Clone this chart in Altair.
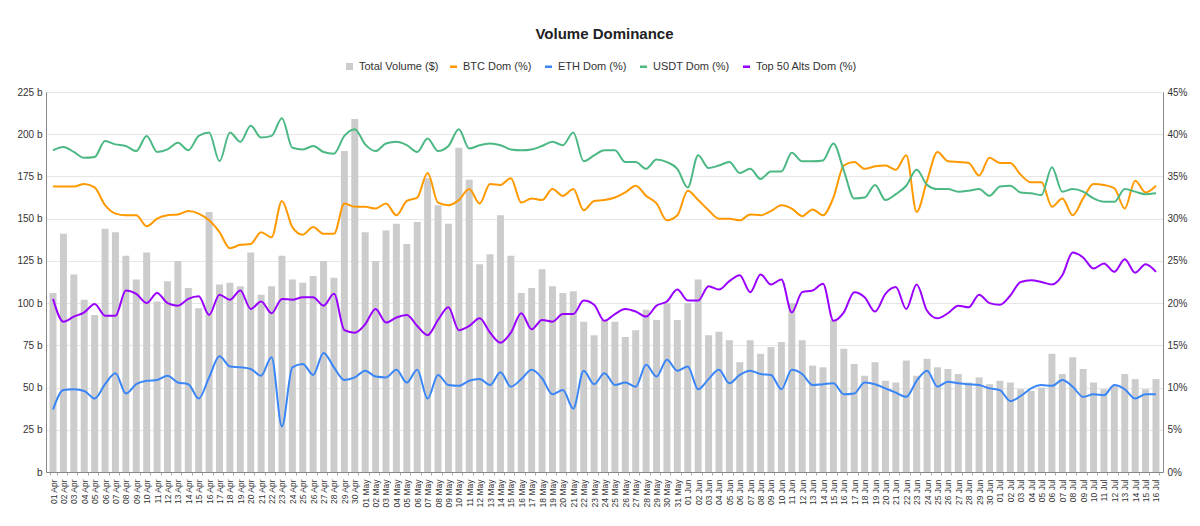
import altair as alt
import pandas as pd

months = [("Apr", 30), ("May", 31), ("Jun", 30), ("Jul", 16)]
dates = [f"{d:02d} {m}" for m, n in months for d in range(1, n + 1)]

volume = [106, 141, 117, 102, 93, 144, 142, 128, 114, 130, 101, 113, 125, 109, 97, 154, 111, 112, 110, 130,
          105, 110, 128, 114, 112, 116, 125, 115, 190, 209,
          142, 125, 143, 147, 135, 148, 174, 158, 147, 192, 173, 123, 129, 152, 128, 106, 109, 120, 110, 106,
          107, 89, 81, 90, 89, 80, 84, 96, 90, 100, 90,
          100, 114, 81, 83, 78, 65, 78, 70, 74, 77, 100, 78, 63, 62, 90, 73, 64, 57, 65, 54,
          53, 66, 57, 67, 62, 61, 58, 53, 56, 52,
          54, 53, 49, 48, 50, 70, 58, 68, 61, 53, 49, 51, 58, 55, 49, 55]

btc = [33.8, 33.8, 33.8, 34.1, 33.7, 31.6, 30.6, 30.4, 30.4, 29.1, 30.0, 30.4, 30.5, 30.9, 30.6, 29.8, 28.4, 26.5, 26.9, 27.0,
       28.4, 27.8, 32.1, 29.0, 28.1, 29.0, 28.2, 28.2, 31.8, 31.4,
       31.4, 31.2, 31.8, 30.4, 32.1, 32.5, 35.4, 31.9, 31.6, 32.2, 33.5, 31.8, 34.1, 34.0, 34.8, 31.9, 32.4, 32.2, 33.5, 32.7,
       33.5, 31.0, 32.1, 32.2, 32.5, 33.1, 33.9, 32.7, 31.8, 29.8, 30.4,
       33.3, 32.2, 31.0, 30.0, 30.0, 29.8, 30.5, 30.4, 30.9, 31.6, 31.2, 30.3, 31.1, 30.4, 32.5, 36.3, 36.7, 35.9, 36.2, 36.3,
       35.8, 37.5, 30.8, 34.5, 37.9, 36.8, 36.7, 36.6, 35.1, 37.2,
       36.6, 36.6, 35.2, 34.3, 34.3, 31.4, 32.4, 30.4, 32.4, 34.1, 34.0, 33.6, 31.2, 34.5, 33.1, 33.9]

eth = [7.4, 9.7, 9.8, 9.6, 8.7, 10.4, 11.7, 9.3, 10.4, 10.8, 10.9, 11.4, 10.6, 10.4, 8.7, 11.2, 13.7, 12.5, 12.4, 12.2,
       11.4, 13.6, 5.4, 12.4, 12.8, 11.5, 14.1, 12.4, 10.9, 11.2,
       12.0, 11.3, 11.2, 12.1, 10.6, 12.1, 8.7, 11.5, 10.3, 10.2, 10.8, 11.0, 10.3, 11.8, 10.1, 11.0, 12.1, 11.1, 9.2, 9.7,
       7.5, 12.0, 10.4, 11.7, 10.3, 10.6, 10.1, 12.7, 11.3, 13.3, 12.0,
       12.5, 9.8, 11.0, 12.1, 10.5, 11.5, 12.0, 11.6, 11.5, 9.8, 12.1, 11.6, 10.3, 10.4, 10.5, 9.2, 9.3, 10.6, 10.4, 9.9,
       9.4, 8.9, 10.8, 12.0, 10.1, 10.7, 10.5, 10.4, 10.3, 9.9,
       9.7, 8.4, 9.0, 9.9, 10.3, 10.2, 10.9, 10.1, 8.9, 9.2, 9.1, 10.3, 9.8, 8.7, 9.2, 9.2]

usdt = [38.1, 38.5, 37.9, 37.2, 37.3, 39.2, 38.8, 38.6, 38.0, 39.8, 37.9, 38.2, 39.0, 38.1, 39.8, 40.2, 36.8, 40.2, 39.1, 41.0,
        39.6, 39.8, 41.9, 38.4, 38.2, 38.6, 37.9, 37.7, 39.8, 40.6,
        38.8, 38.0, 38.9, 39.1, 38.7, 37.9, 39.5, 38.0, 38.6, 40.6, 38.3, 38.7, 38.9, 38.7, 38.2, 38.1, 38.2, 38.6, 39.1, 38.7,
        40.2, 36.8, 37.5, 38.1, 38.1, 36.7, 36.7, 35.9, 37.0, 36.7, 35.9,
        33.7, 37.5, 36.0, 36.3, 36.7, 35.4, 35.9, 34.7, 35.6, 35.6, 37.8, 36.8, 36.8, 36.9, 38.9, 35.7, 32.4, 32.5, 34.0, 32.2,
        32.9, 33.9, 35.8, 34.0, 33.5, 33.5, 33.2, 33.3, 33.5, 32.7,
        33.8, 33.9, 33.1, 33.0, 32.8, 36.1, 33.2, 33.5, 33.2, 32.4, 32.0, 32.0, 33.5, 33.2, 32.9, 33.0]

alts = [20.5, 17.8, 18.4, 18.9, 19.9, 18.5, 18.5, 21.5, 21.1, 20.0, 21.2, 20.0, 19.7, 20.5, 20.8, 18.6, 21.0, 20.4, 21.5, 19.3,
        20.2, 18.8, 20.5, 20.4, 20.7, 20.7, 19.7, 21.1, 16.8, 16.5,
        17.5, 19.3, 17.7, 18.3, 18.6, 17.3, 16.2, 18.0, 19.5, 16.8, 17.3, 18.2, 16.5, 15.3, 16.5, 18.8, 16.9, 18.0, 17.8, 18.7,
        18.7, 20.3, 19.8, 17.9, 18.7, 19.3, 19.0, 18.4, 19.7, 20.2, 21.6,
        20.3, 20.3, 22.0, 21.6, 22.6, 23.3, 21.3, 23.4, 22.2, 22.8, 18.9, 21.3, 21.5, 22.3, 17.9, 18.9, 21.3, 20.7, 19.0, 21.1,
        21.9, 19.3, 22.2, 19.1, 18.2, 18.8, 19.7, 19.5, 21.0, 20.0,
        19.8, 20.9, 22.5, 22.7, 22.5, 22.2, 23.3, 26.0, 25.4, 24.1, 24.7, 23.7, 25.2, 23.6, 24.6, 23.7]

bar_name = "Total Volume ($)"
bar_color = "#cccccc"
line_names = ["BTC Dom (%)", "ETH Dom (%)", "USDT Dom (%)", "Top 50 Alts Dom (%)"]
line_colors = ["#ff9900", "#3b86f7", "#4cb884", "#9900ff"]

vol_df = pd.DataFrame({"date": dates, "value": volume, "series": bar_name})
line_df = pd.concat(
    [pd.DataFrame({"date": dates, "value": vals, "series": name})
     for name, vals in zip(line_names, [btc, eth, usdt, alts])],
    ignore_index=True,
)

FONT = "Liberation Sans"

x_enc = alt.X(
    "date:N", sort=dates, title=None,
    scale=alt.Scale(paddingInner=0.33, paddingOuter=0.34),
    axis=alt.Axis(labelAngle=-90, labelFont=FONT, labelFontSize=8.5, labelColor="#333333",
                  domainColor="#888888", tickColor="#aaaaaa", tickSize=3, tickBand="extent",
                  labelPadding=4),
)

bars = alt.Chart(vol_df).mark_bar().encode(
    x=x_enc,
    y=alt.Y("value:Q", title=None, scale=alt.Scale(domain=[0, 225]),
            axis=alt.Axis(orient="left", values=list(range(0, 226, 25)),
                          labelExpr="datum.value == 0 ? 'b' : datum.value + ' b'",
                          labelFont=FONT, labelFontSize=10, labelColor="#333333",
                          grid=True, gridColor="#e6e6e6", domainColor="#888888", ticks=False,
                          labelPadding=4)),
    color=alt.Color("series:N", scale=alt.Scale(domain=[bar_name], range=[bar_color]),
                    legend=alt.Legend(orient="none", legendX=298, legendY=-31, direction="horizontal",
                                      title=None, padding=0, labelFont=FONT, labelFontSize=11,
                                      labelColor="#333333", symbolType="square", symbolSize=49,
                                      labelOffset=4)),
)

lines = alt.Chart(line_df).mark_line(interpolate="monotone", strokeWidth=2).encode(
    x=x_enc,
    y=alt.Y("value:Q", title=None, scale=alt.Scale(domain=[0, 45]),
            axis=alt.Axis(orient="right", values=list(range(0, 46, 5)),
                          labelExpr="datum.value + '%'",
                          labelFont=FONT, labelFontSize=10, labelColor="#333333",
                          grid=False, domainColor="#888888", ticks=False, labelPadding=4)),
    color=alt.Color("series:N", scale=alt.Scale(domain=line_names, range=line_colors),
                    legend=alt.Legend(orient="none", legendX=402, legendY=-31, direction="horizontal",
                                      title=None, padding=0, labelFont=FONT, labelFontSize=11,
                                      labelColor="#333333", symbolType="stroke", symbolSize=49,
                                      symbolStrokeWidth=2.5, columnPadding=8, labelOffset=4)),
)

chart = alt.layer(bars, lines).resolve_scale(y="independent", color="independent").properties(
    width=1117, height=380,
    padding={"left": 38, "top": 84, "right": 29, "bottom": 46},
    autosize="none",
    title=alt.TitleParams("Volume Dominance", font=FONT, fontSize=15, fontWeight="bold",
                          color="#222222", anchor="middle", offset=19),
).configure_view(stroke=None)

chart.save("out.html", embed_options={"renderer": "svg", "actions": False})
